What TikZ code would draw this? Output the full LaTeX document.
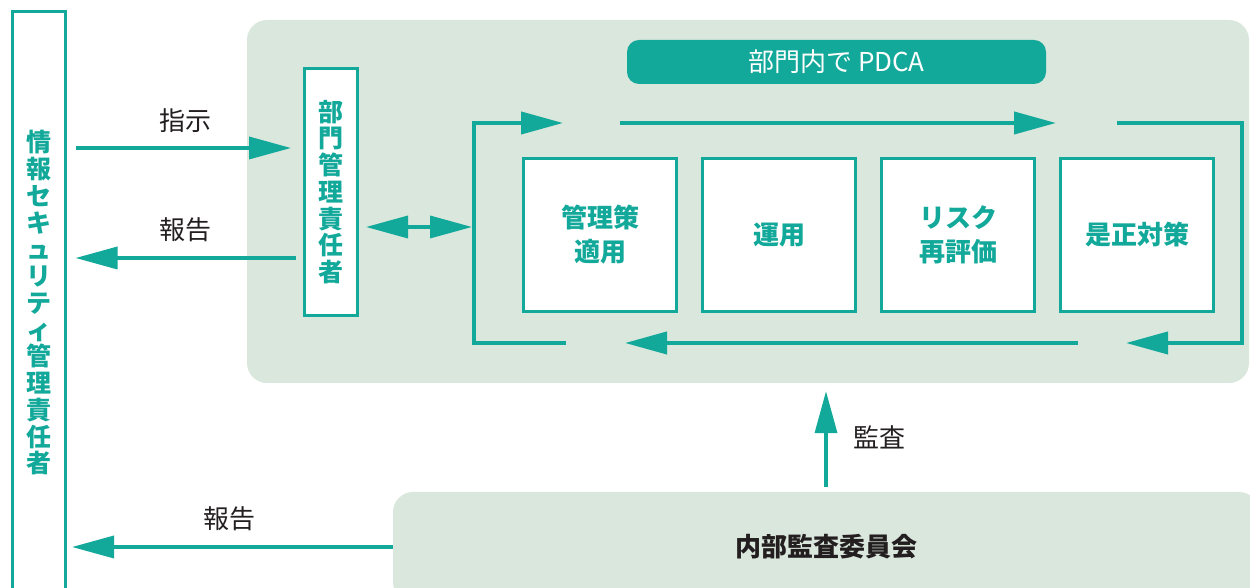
\documentclass[tikz,border=0pt]{standalone}
\usepackage{fontspec}
\newfontfamily\jpfont{Noto Sans CJK JP}
\usetikzlibrary{arrows.meta,positioning}

\definecolor{teal1}{HTML}{12A89A}
\definecolor{pale}{HTML}{DAE7DD}
\definecolor{ink}{HTML}{231F20}

\begin{document}
\begin{tikzpicture}[x=1pt,y=1pt,>={Triangle[length=42pt,width=22pt]},node distance=23pt,
    secbox/.style={draw=teal1,line width=3pt,fill=white,inner sep=0pt,align=center,
        text=teal1,font=\jpfont\bfseries\fontsize{25}{26.75}\selectfont},
    stage/.style={secbox,minimum width=153pt,minimum height=153pt,
        font=\jpfont\bfseries\fontsize{26}{34}\selectfont},
    panel/.style={fill=pale,rounded corners=20pt,inner sep=0pt},
    flow/.style={->,draw=teal1,line width=3.5pt},
    loopline/.style={flow,line width=4pt},
    lbl/.style={text=ink,inner sep=2pt,font=\jpfont\fontsize{26}{30}\selectfont}]

    \useasboundingbox (0,0) rectangle (1250,588);

    % panels
    \node[panel,minimum width=1002pt,minimum height=363pt] (dept) at (748,386.5) {};
    \node[panel,minimum width=866pt,minimum height=110pt,text=ink,
          font=\jpfont\bfseries\fontsize{26}{30}\selectfont] (audit) at (826,41) {内部監査委員会};

    % managers
    \node[secbox,minimum width=53pt,minimum height=582pt] (secmgr) at (39,285)
        {情\\報\\セ\\キ\\ュ\\リ\\テ\\ィ\\管\\理\\責\\任\\者};
    \node[secbox,minimum width=53pt,minimum height=247pt] (dmgr) at (331,396)
        {部\\門\\管\\理\\責\\任\\者};

    \node[fill=teal1,rounded corners=12pt,minimum width=419pt,minimum height=44pt,
          text=white,font=\jpfont\fontsize{26}{28}\selectfont] (pdca) at (836.5,526) {部門内で PDCA};

    % PDCA stages
    \node[stage] (s1) at (600,353) {管理策\\適用};
    \node[stage,right=of s1] (s2) {運用};
    \node[stage,right=of s2] (s3) {リスク\\再評価};
    \node[stage,right=of s3] (s4) {是正対策};

    % loop
    \coordinate (lb) at (474,245);
    \coordinate (lt) at (474,465);
    \coordinate (rt) at (1242,465);
    \coordinate (rb) at (1242,245);
    \coordinate (b0) at (566,245);
    \coordinate (t1) at (563,465);
    \coordinate (t2s) at (620,465);
    \coordinate (t2) at (1056,465);
    \coordinate (t3s) at (1117,465);
    \coordinate (b1) at (1126,245);
    \coordinate (b2s) at (1078,245);
    \coordinate (b2) at (625,245);

    \draw[loopline] (b0) -- (lb) -- (lt) -- (t1);
    \draw[loopline] (t2s) -- (t2);
    \draw[loopline] (t3s) -- (rt) -- (rb) -- (b1);
    \draw[loopline] (b2s) -- (b2);

    % connectors
    \coordinate (dbl) at (472,361);
    \coordinate (yinstr) at (0,440);
    \coordinate (yrep) at (0,330);

    \draw[flow,<->,shorten <=7pt] (dmgr.east |- dbl) -- (dbl);
    \draw[flow,shorten <=8.5pt,shorten >=12pt] (secmgr.east |- yinstr)
        -- node[lbl,above=12pt] {指示} (dmgr.west |- yinstr);
    \draw[flow,shorten <=7pt,shorten >=8.5pt] (dmgr.west |- yrep)
        -- node[lbl,above=12pt] {報告} (secmgr.east |- yrep);
    \draw[flow,shorten >=5pt] (audit.west)
        -- node[lbl,above=12pt] {報告} (secmgr.east |- audit.west);
    \draw[flow,shorten <=5pt,shorten >=8pt] (audit.north)
        -- node[lbl,right=24pt] {監査} (audit.north |- dept.south);
\end{tikzpicture}
\end{document}
